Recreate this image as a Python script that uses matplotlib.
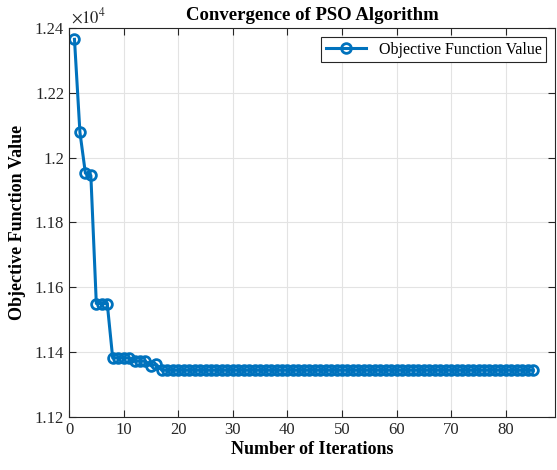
import matplotlib.pyplot as plt
from matplotlib.ticker import FuncFormatter, MultipleLocator

plt.rcParams['font.family'] = ['Liberation Serif', 'DejaVu Serif']
plt.rcParams['mathtext.fontset'] = 'stix'

# best objective value found after each iteration
iterations = list(range(1, 86))
objective = [12365, 12078, 11952, 11945, 11550, 11550, 11550,
             11382, 11382, 11382, 11382, 11372, 11372, 11372,
             11358, 11362] + [11344] * 69

blue = '#0072BD'

fig = plt.figure(figsize=(5.57, 4.70), dpi=100)
ax = fig.add_axes([0.1239, 0.1128, 0.8725, 0.8277])

ax.plot(iterations, objective, '-o', color=blue, linewidth=2.2,
        markersize=7, markerfacecolor='none', markeredgewidth=2,
        label='Objective Function Value')

ax.set_xlim(0, 89)
ax.set_ylim(11200, 12400)
ax.xaxis.set_major_locator(MultipleLocator(10))
ax.yaxis.set_major_locator(MultipleLocator(200))
ax.yaxis.set_major_formatter(FuncFormatter(lambda v, p: f"{v / 1e4:g}"))

ax.grid(True, color='#e3e3e3', linewidth=0.8)
ax.set_axisbelow(True)
ax.tick_params(direction='in', top=True, right=True, labelsize=12,
               length=5, colors='#262626')
for s in ax.spines.values():
    s.set_color('#262626')
    s.set_linewidth(0.8)

ax.set_title('Convergence of PSO Algorithm', fontsize=13.5, fontweight='bold', pad=6)
ax.set_xlabel('Number of Iterations', fontsize=13, fontweight='bold', labelpad=2)
ax.set_ylabel('Objective Function Value', fontsize=13, fontweight='bold', labelpad=6)
ax.text(0.005, 1.003, r'$\times10^4$', transform=ax.transAxes, fontsize=12,
        color='#262626', ha='left', va='bottom')

leg = ax.legend(loc='upper right', fontsize=11.5, fancybox=False, framealpha=1,
                edgecolor='#262626', borderpad=0.3, handlelength=2.5,
                borderaxespad=0.55)
leg.get_frame().set_linewidth(0.8)

fig.savefig('out.png', dpi=100)
